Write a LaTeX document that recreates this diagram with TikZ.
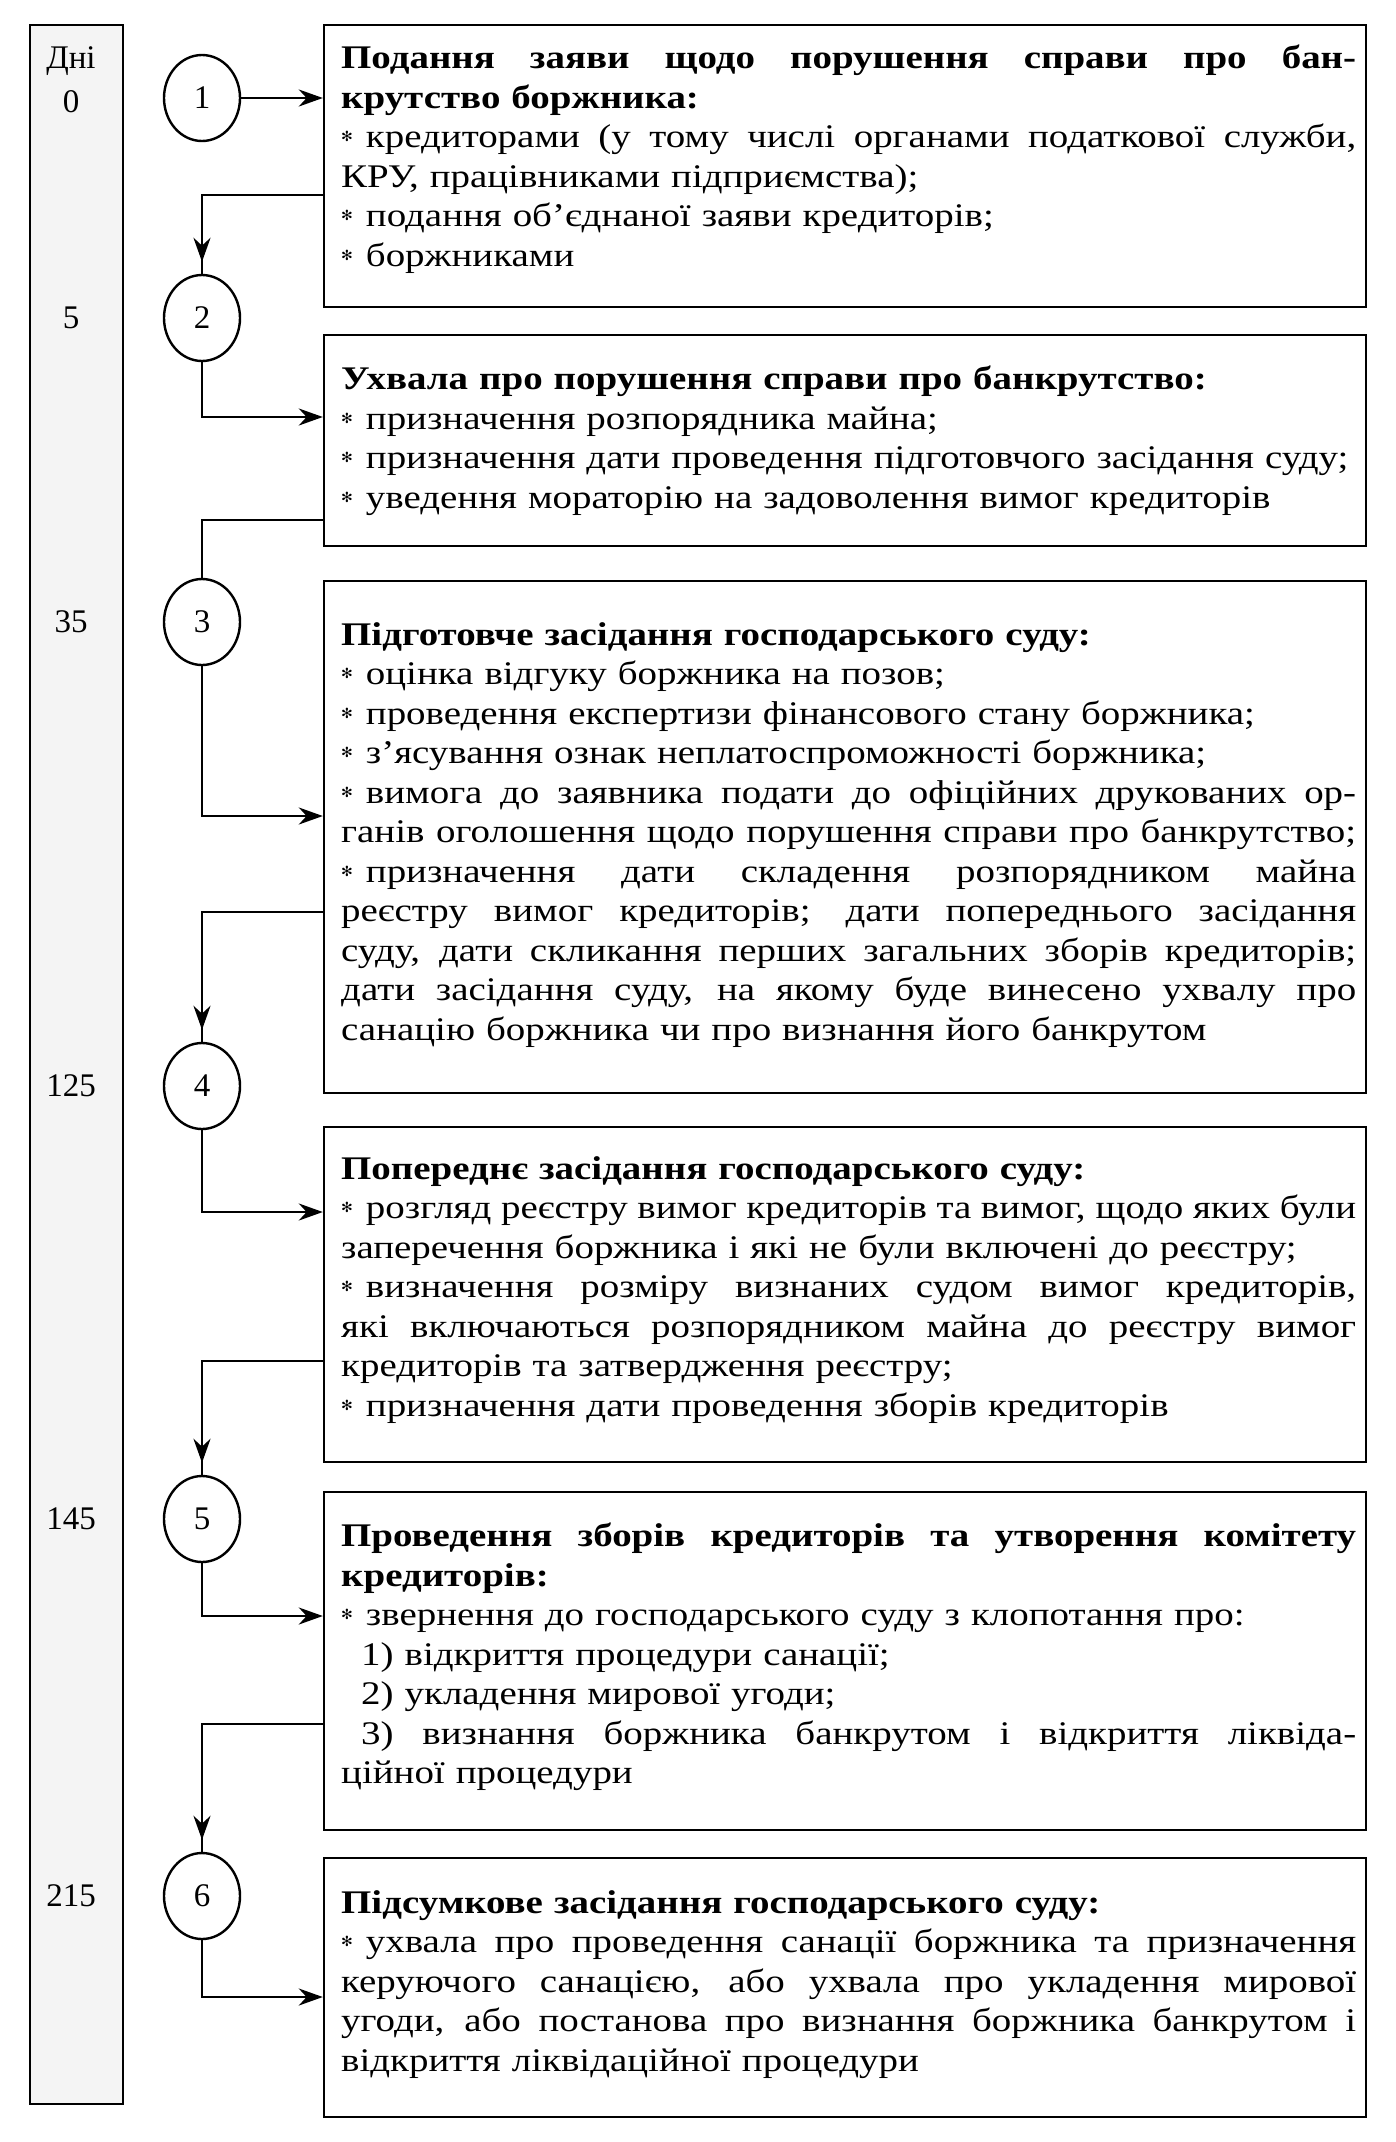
\documentclass[tikz,border=0pt]{standalone}
\usepackage{fontspec}
\setmainfont[FakeStretch=1.18]{Liberation Serif}
\newfontfamily\plainf{Liberation Serif}
\newfontfamily\djv{DejaVu Sans}
\usetikzlibrary{arrows.meta,shapes.geometric,decorations.markings}
\newcommand\JJ[1]{\hbox to 1015pt{\spaceskip=8pt plus 40pt minus 3pt\relax #1}}
\newcommand\LLn[1]{\hbox to 1015pt{#1\hfil}}
\newcommand\bul{\raisebox{6pt}{\djv\fontsize{14}{14}\selectfont ✻}\kern13pt\relax}
\begin{document}
\begin{tikzpicture}[x=1pt,y=-1pt,
  box/.style={draw,line width=2.4pt,inner sep=0pt,minimum width=1042pt},
  txt/.style={anchor=north west,inner sep=0pt,text width=1015pt,align=left,font=\fontsize{33}{39.5}\selectfont},
  circ/.style={draw,ellipse,line width=2.4pt,minimum width=76pt,minimum height=86pt,inner sep=0pt,font=\plainf\fontsize{33}{33}\selectfont},
  day/.style={font=\plainf\fontsize{33}{33}\selectfont,inner sep=0pt},
  ln/.style={line width=2.6pt},
  arr/.style={ln,-{Stealth[length=24pt,width=17pt]}},
  midarr/.style={ln,postaction={decorate},decoration={markings,mark=at position -12pt with {\arrow{Stealth[length=24pt,width=17pt]}}}}
]
\fill[white] (0,0) rectangle (1396,2142);
\useasboundingbox (0,0) rectangle (1396,2142);
% left bar
\node[draw,line width=2.4pt,fill=gray!9,minimum width=93pt,minimum height=2079pt,inner sep=0pt] (bar) at (76.5,1064.5) {};
\node[day] (dd) at (71,61) {Дні};
\node[day] (d0) at (71,102) {0};
\node[day] (d5) at (71,318) {5};
\node[day] (d35) at (71,622) {35};
\node[day] (d125) at (71,1086) {125};
\node[day] (d145) at (71,1519) {145};
\node[day] (d215) at (71,1896) {215};
% circles
\node[circ] (c1) at (202,98) {1};
\node[circ] (c2) at (202,318) {2};
\node[circ] (c3) at (202,622) {3};
\node[circ] (c4) at (202,1086) {4};
\node[circ] (c5) at (202,1519) {5};
\node[circ] (c6) at (202,1896) {6};
% boxes
\node[box,minimum height=282pt] (b1) at (845,166) {};
\node[box,minimum height=211pt] (b2) at (845,440.5) {};
\node[box,minimum height=512pt] (b3) at (845,837) {};
\node[box,minimum height=335pt] (b4) at (845,1294.5) {};
\node[box,minimum height=338pt] (b5) at (845,1661) {};
\node[box,minimum height=259pt] (b6) at (845,1987.5) {};
% texts
\node[txt] (t1) at (341,45) {%
\JJ{\textbf{Подання заяви щодо порушення справи про бан-}}
\LLn{\textbf{крутство боржника:}}
\JJ{\bul кредиторами (у тому числі органами податкової служби,}
\LLn{КРУ, працівниками підприємства);}
\LLn{\bul подання об’єднаної заяви кредиторів;}
\LLn{\bul боржниками}};
\node[txt] (t2) at (341,366) {%
\LLn{\textbf{Ухвала про порушення справи про банкрутство:}}
\LLn{\bul призначення розпорядника майна;}
\LLn{\bul призначення дати проведення підготовчого засідання суду;}
\LLn{\bul уведення мораторію на задоволення вимог кредиторів}};
\node[txt] (t3) at (341,622) {%
\LLn{\textbf{Підготовче засідання господарського суду:}}
\LLn{\bul оцінка відгуку боржника на позов;}
\LLn{\bul проведення експертизи фінансового стану боржника;}
\LLn{\bul з’ясування ознак неплатоспроможності боржника;}
\JJ{\bul вимога до заявника подати до офіційних друкованих ор-}
\JJ{ганів оголошення щодо порушення справи про банкрутство;}
\JJ{\bul призначення дати складення розпорядником майна}
\JJ{реєстру вимог кредиторів; дати попереднього засідання}
\JJ{суду, дати скликання перших загальних зборів кредиторів;}
\JJ{дати засідання суду, на якому буде винесено ухвалу про}
\LLn{санацію боржника чи про визнання його банкрутом}};
\node[txt] (t4) at (341,1156) {%
\LLn{\textbf{Попереднє засідання господарського суду:}}
\JJ{\bul розгляд реєстру вимог кредиторів та вимог, щодо яких були}
\LLn{заперечення боржника і які не були включені до реєстру;}
\JJ{\bul визначення розміру визнаних судом вимог кредиторів,}
\JJ{які включаються розпорядником майна до реєстру вимог}
\LLn{кредиторів та затвердження реєстру;}
\LLn{\bul призначення дати проведення зборів кредиторів}};
\node[txt] (t5) at (341,1523) {%
\JJ{\textbf{Проведення зборів кредиторів та утворення комітету}}
\LLn{\textbf{кредиторів:}}
\LLn{\bul звернення до господарського суду з клопотання про:}
\LLn{\hspace*{20pt}1) відкриття процедури санації;}
\LLn{\hspace*{20pt}2) укладення мирової угоди;}
\JJ{\hspace*{20pt}3) визнання боржника банкрутом і відкриття ліквіда-}
\LLn{ційної процедури}};
\node[txt] (t6) at (341,1890) {%
\LLn{\textbf{Підсумкове засідання господарського суду:}}
\JJ{\bul ухвала про проведення санації боржника та призначення}
\JJ{керуючого санацією, або ухвала про укладення мирової}
\JJ{угоди, або постанова про визнання боржника банкрутом і}
\LLn{відкриття ліквідаційної процедури}};
% connector helper coordinates
\coordinate (k1) at (324,195);
\coordinate (k2) at (324,417);
\coordinate (k3) at (324,520);
\coordinate (k4) at (324,816);
\coordinate (k5) at (324,912);
\coordinate (k6) at (324,1212);
\coordinate (k7) at (324,1361);
\coordinate (k8) at (324,1616);
\coordinate (k9) at (324,1724);
\coordinate (k10) at (324,1997);
% connectors
\draw[arr] (c1.east) -- (c1.east -| b1.west);
\draw[midarr] (b1.west |- k1) -| (c2);
\draw[arr] (c2) |- (b2.west |- k2);
\draw[ln] (b2.west |- k3) -| (c3);
\draw[arr] (c3) |- (b3.west |- k4);
\draw[midarr] (b3.west |- k5) -| (c4);
\draw[arr] (c4) |- (b4.west |- k6);
\draw[midarr] (b4.west |- k7) -| (c5);
\draw[arr] (c5) |- (b5.west |- k8);
\draw[midarr] (b5.west |- k9) -| (c6);
\draw[arr] (c6) |- (b6.west |- k10);
\end{tikzpicture}
\end{document}
